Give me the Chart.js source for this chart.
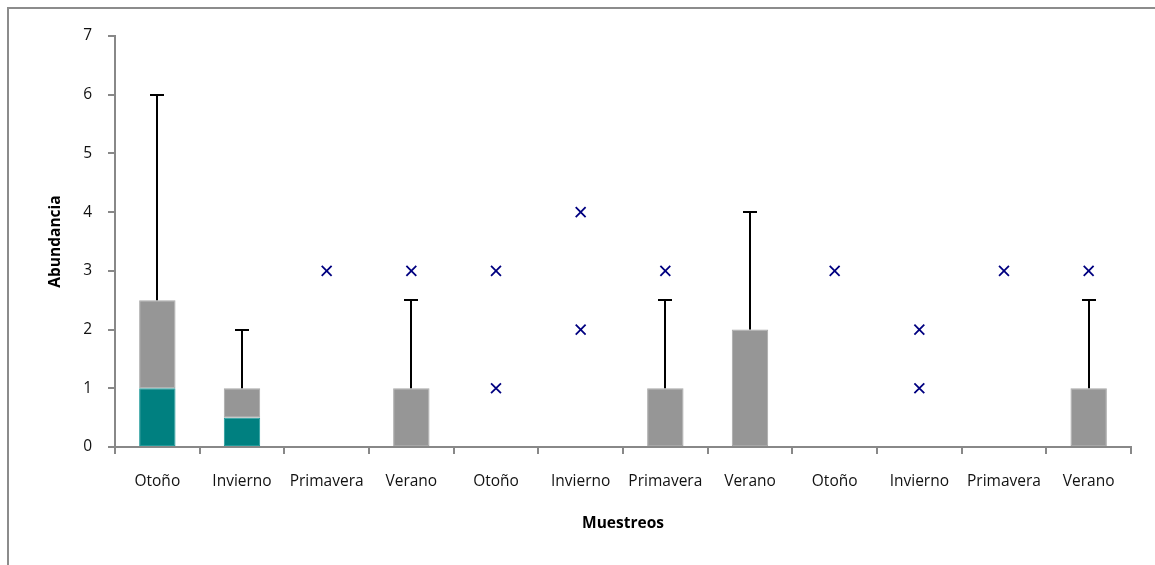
<!DOCTYPE html>
<html>
<head>
<meta charset="utf-8">
<script src="https://cdn.jsdelivr.net/npm/chart.js@4/dist/chart.umd.min.js"></script>
<style>
  html, body { margin: 0; padding: 0; background: #fff; }
  #wrap { position: relative; width: 1155px; height: 565px; overflow: hidden; }
  #frame { position: absolute; left: 7px; top: 7px; width: 1200px; height: 600px;
           border-left: 2px solid #8c8c8c; border-top: 2px solid #8c8c8c; box-sizing: border-box; }
  canvas { position: absolute; left: 0; top: 0; }
</style>
</head>
<body>
<div id="wrap">
  <div id="frame"></div>
  <canvas id="c" width="1155" height="565"></canvas>
</div>
<script>
// Sampling seasons (three yearly cycles)
const categories = ['Otoño', 'Invierno', 'Primavera', 'Verano',
                    'Otoño', 'Invierno', 'Primavera', 'Verano',
                    'Otoño', 'Invierno', 'Primavera', 'Verano'];

// Box statistics per sampling (Q1 is 0 everywhere)
const q1       = [0, 0, 0, 0, 0, 0, 0, 0, 0, 0, 0, 0];
const median   = [1, 0.5, 0, 0, 0, 0, 0, 0, 0, 0, 0, 0];
const q3       = [2.5, 1, 0, 1, 0, 0, 1, 2, 0, 0, 0, 1];
const whiskerTop = [6, 2, null, 2.5, null, null, 2.5, 4, null, null, null, 2.5];

// Outlying observations
const outlierHigh = [null, null, 3, 3, 3, 4, 3, null, 3, 2, 3, 3];
const outlierLow  = [null, null, null, null, 1, 2, null, null, null, 1, null, null];

const yTicks = [0, 1, 2, 3, 4, 5, 6, 7];

const lowerBox = categories.map((_, i) => [q1[i], median[i]]);
const upperBox = categories.map((_, i) => [median[i], q3[i]]);

// Whiskers from Q3 up to the maximum, with a cap
const whiskerPlugin = {
  id: 'whiskers',
  afterDatasetsDraw(chart) {
    const { ctx, scales: { x, y } } = chart;
    ctx.save();
    ctx.strokeStyle = '#000';
    ctx.lineWidth = 2;
    whiskerTop.forEach((top, i) => {
      if (top === null) return;
      const px = Math.round(x.getPixelForValue(i));
      const yFrom = y.getPixelForValue(q3[i]);
      const yTo = Math.round(y.getPixelForValue(top));
      ctx.beginPath();
      ctx.moveTo(px, yFrom);
      ctx.lineTo(px, yTo);
      ctx.moveTo(px - 7, yTo);
      ctx.lineTo(px + 7, yTo);
      ctx.stroke();
    });
    ctx.restore();
  }
};

const tickFont = { family: '"Open Sans", sans-serif', size: 15.5 };
const titleFont = { family: '"Open Sans", sans-serif', size: 15.5, weight: 'bold' };

new Chart(document.getElementById('c'), {
  data: {
    labels: categories,
    datasets: [
      {
        type: 'bar', label: 'Q1-Mediana', data: lowerBox,
        backgroundColor: '#008080', borderColor: '#1f9a9a', borderWidth: 1,
        borderSkipped: false, categoryPercentage: 1, barPercentage: 0.43, order: 2
      },
      {
        type: 'bar', label: 'Mediana-Q3', data: upperBox,
        backgroundColor: '#969696', borderColor: '#a8a8a8', borderWidth: 1,
        borderSkipped: false, categoryPercentage: 1, barPercentage: 0.43, order: 2
      },
      {
        type: 'line', label: 'Atípicos', data: outlierHigh, showLine: false,
        pointStyle: 'crossRot', pointRadius: 7, pointBorderWidth: 1.8,
        pointBorderColor: '#000080', pointBackgroundColor: '#000080', order: 1
      },
      {
        type: 'line', label: 'Atípicos 2', data: outlierLow, showLine: false,
        pointStyle: 'crossRot', pointRadius: 7, pointBorderWidth: 1.8,
        pointBorderColor: '#000080', pointBackgroundColor: '#000080', order: 1
      }
    ]
  },
  options: {
    responsive: false,
    animation: false,
    layout: { padding: { left: 0, top: 36, right: 24, bottom: 0 } },
    plugins: { legend: { display: false }, tooltip: { enabled: false } },
    scales: {
      x: {
        stacked: true,
        offset: true,
        grid: { offset: true, drawOnChartArea: false, drawTicks: true, tickLength: 7, color: '#888', lineWidth: 2 },
        border: { color: '#888', width: 2 },
        ticks: { font: tickFont, color: '#111', padding: 18, maxRotation: 0, autoSkip: false },
        title: { display: true, text: 'Muestreos', font: titleFont, color: '#000', padding: { top: 0, bottom: 32 } },
        afterFit(scale) { scale.height = 118; }
      },
      y: {
        min: 0, max: 7,
        afterBuildTicks(scale) { scale.ticks = yTicks.map(v => ({ value: v })); },
        grid: { drawOnChartArea: false, drawTicks: true, tickLength: 7, color: '#888', lineWidth: 2 },
        border: { color: '#888', width: 2 },
        ticks: { font: tickFont, color: '#111', padding: 16 },
        title: { display: true, text: 'Abundancia', font: titleFont, color: '#000', padding: { top: 46, bottom: 0 } },
        afterFit(scale) { scale.width = 115; }
      }
    }
  },
  plugins: [whiskerPlugin]
});
</script>
</body>
</html>
